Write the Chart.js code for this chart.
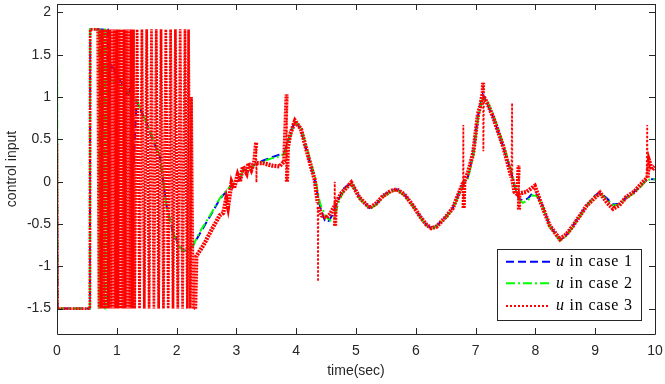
<!DOCTYPE html>
<html>
<head>
<meta charset="utf-8">
<script src="https://cdn.jsdelivr.net/npm/chart.js@4.4.0/dist/chart.umd.min.js"></script>
<style>
html, body { margin: 0; padding: 0; background: #fff; }
</style>
</head>
<body>
<canvas id="chart" width="665" height="384"></canvas>
<script>
// axis ticks
const xTicks = [0, 1, 2, 3, 4, 5, 6, 7, 8, 9, 10];
const yTicks = [-1.5, -1, -0.5, 0, 0.5, 1, 1.5, 2];

const seriesNames = ['in case 1', 'in case 2', 'in case 3'];

// case 1 (blue, dashed)
const t1 = [0, 0.01, 0.55, 0.555, 0.84, 0.85, 0.86, 0.9, 1.0, 1.1, 1.2, 1.24, 1.28, 1.33, 1.4, 1.5, 1.6, 1.72, 1.83, 1.94, 2.02, 2.11, 2.2, 2.27,
  2.4, 2.55, 2.72, 2.85, 2.92, 3.0, 3.06, 3.11, 3.2, 3.3, 3.45, 3.56, 3.72, 3.8, 3.84, 3.9, 3.98, 4.08, 4.2, 4.31, 4.4, 4.48, 4.53, 4.6, 4.7, 4.8,
  4.92, 5.06, 5.23, 5.35, 5.45, 5.58, 5.68, 5.81, 5.95, 6.07, 6.18, 6.26, 6.35, 6.51, 6.62, 6.73, 6.8, 6.85, 6.87, 6.96, 7.04, 7.12, 7.2, 7.29,
  7.46, 7.6, 7.65, 7.72, 7.79, 7.87, 7.95, 8.02, 8.1, 8.24, 8.41, 8.52, 8.63, 8.85, 9.0, 9.08, 9.2, 9.3, 9.4, 9.52, 9.65, 9.75, 9.86, 9.95, 10];
const u1 = [0, -1.5, -1.5, 1.8, 1.8, 1.8, 0.7, 1.4, 1.25, 1.15, 1.0, 1.24, 0.2, 0.95, 0.85, 0.69, 0.5, 0.3, -0.28, -0.6, -0.72, -0.82, -0.8, -0.76,
  -0.6, -0.42, -0.21, -0.1, -0.05, 0.0, 0.02, 0.15, 0.12, 0.2, 0.25, 0.28, 0.32, 0.34, 0.42, 0.56, 0.72, 0.62, 0.3, 0.02, -0.3, -0.46, -0.48, -0.4, -0.22, -0.08,
  -0.01, -0.19, -0.31, -0.26, -0.17, -0.11, -0.09, -0.15, -0.28, -0.41, -0.51, -0.55, -0.52, -0.41, -0.31, -0.12, -0.01, 0.0, 0.05, 0.34, 0.78, 1.03, 0.92, 0.77,
  0.42, 0.1, -0.05, -0.2, -0.22, -0.2, -0.14, -0.15, -0.25, -0.52, -0.69, -0.63, -0.52, -0.29, -0.16, -0.13, -0.2, -0.27, -0.26, -0.19, -0.12, -0.06, 0.02, 0.03, 0.03];

// case 2 (green, dash-dot)
const t2 = [0, 0.003, 0.008, 0.55, 0.553, 0.7, 0.71, 0.73, 0.8, 0.81, 0.84, 0.85, 0.9, 1.0, 1.1, 1.2, 1.33, 1.5, 1.6, 1.72, 1.78, 1.83, 1.94, 2.02, 2.11, 2.2, 2.27,
  2.4, 2.55, 2.72, 2.85, 2.92, 3.0, 3.06, 3.11, 3.2, 3.3, 3.45, 3.56, 3.72, 3.8, 3.84, 3.9, 3.98, 4.08, 4.2, 4.31, 4.4, 4.5, 4.58, 4.63, 4.7, 4.8,
  4.92, 5.06, 5.23, 5.35, 5.45, 5.58, 5.68, 5.81, 5.95, 6.07, 6.18, 6.26, 6.35, 6.51, 6.62, 6.73, 6.8, 6.87, 6.96, 7.04, 7.12, 7.2, 7.29,
  7.46, 7.6, 7.65, 7.72, 7.79, 7.87, 7.95, 8.02, 8.1, 8.24, 8.41, 8.52, 8.63, 8.85, 9.0, 9.08, 9.2, 9.3, 9.4, 9.52, 9.65, 9.75, 9.86, 9.95, 10];
const u2 = [0, 1.37, -1.5, -1.5, 1.8, 1.8, -1.5, 1.8, 1.8, -1.5, -1.5, 1.3, 1.2, 1.18, 1.12, 1.05, 0.97, 0.69, 0.52, 0.3, 0.0, -0.28, -0.6, -0.74, -0.82, -0.8, -0.76,
  -0.58, -0.41, -0.2, -0.09, -0.04, 0.0, 0.03, 0.14, 0.13, 0.2, 0.24, 0.27, 0.3, 0.33, 0.4, 0.54, 0.71, 0.64, 0.34, 0.06, -0.26, -0.42, -0.46, -0.44, -0.26, -0.1,
  -0.02, -0.2, -0.32, -0.27, -0.18, -0.12, -0.1, -0.16, -0.29, -0.42, -0.52, -0.55, -0.53, -0.42, -0.32, -0.14, -0.03, 0.04, 0.3, 0.74, 1.0, 0.94, 0.8,
  0.45, 0.12, -0.03, -0.2, -0.25, -0.22, -0.16, -0.17, -0.26, -0.53, -0.7, -0.64, -0.53, -0.3, -0.17, -0.14, -0.21, -0.28, -0.27, -0.2, -0.13, -0.07, 0.02, 0.03, 0.03];

// case 3 (red, dotted) - chattering part first, then the smooth part with spikes
const t3 = [0, 0.01, 0.55, 0.555, 0.68,
  0.70, 0.72, 0.74, 0.76, 0.78, 0.80, 0.82, 0.84, 0.86, 0.88, 0.90, 0.92, 0.94, 0.96, 0.98, 1.00, 1.02, 1.04, 1.06, 1.08, 1.10, 1.12, 1.14, 1.16, 1.18, 1.20,
  1.22, 1.24, 1.26, 1.28, 1.30,
  1.34, 1.38, 1.42, 1.46, 1.50, 1.54, 1.58, 1.62, 1.66, 1.70, 1.74, 1.78, 1.82, 1.86, 1.90, 1.94, 1.98, 2.02, 2.06, 2.10, 2.14, 2.18,
  2.2, 2.23, 2.25, 2.28, 2.31,
  2.33, 2.45, 2.6, 2.72, 2.78, 2.83, 2.86, 2.92, 2.96, 3.02, 3.06, 3.11, 3.17, 3.2, 3.25, 3.3, 3.33, 3.335, 3.34, 3.44, 3.6, 3.72, 3.8, 3.84, 3.845,
  3.86, 3.9, 3.98, 4.08, 4.2, 4.31, 4.36, 4.365, 4.37, 4.43, 4.5, 4.57, 4.64, 4.645, 4.65, 4.66, 4.76, 4.92, 5.06, 5.23, 5.35, 5.45, 5.58, 5.68,
  5.81, 5.95, 6.07, 6.18, 6.26, 6.35, 6.51, 6.62, 6.73, 6.79, 6.795, 6.8, 6.81, 6.87, 6.96, 7.04, 7.08, 7.12, 7.125, 7.13, 7.14, 7.2, 7.29, 7.46,
  7.6, 7.61, 7.615, 7.65, 7.7, 7.72, 7.725, 7.73, 7.85, 7.99, 8.07, 8.24, 8.41, 8.52, 8.63, 8.85, 9.08, 9.2, 9.3, 9.4, 9.52, 9.65, 9.75, 9.86,
  9.87, 9.875, 9.9, 9.95, 10];
const u3 = [0.45, -1.5, -1.5, 1.8, 1.8,
  -1.5, 1.8, -1.5, 1.8, -1.5, 1.8, -1.5, 1.8, -1.5, 1.8, -1.5, 1.8, -1.5, 1.8, -1.5, 1.8, -1.5, 1.8, -1.5, 1.8, -1.5, 1.8, -1.5, 1.8, -1.5, 1.8,
  -1.5, 1.8, -1.5, 1.8, -1.5,
  1.8, -1.5, 1.8, -1.5, 1.8, -1.5, 1.8, -1.5, 1.8, -1.5, 1.8, -1.5, 1.8, -1.5, 1.8, -1.5, 1.8, -1.5, 1.8, -1.5, 1.8, -1.5,
  1.8, -1.5, 1.0, -1.5, -1.5,
  -0.88, -0.75, -0.55, -0.4, -0.37, -0.2, -0.3, -0.01, -0.08, 0.08, 0.0, 0.18, 0.1, 0.22, 0.14, 0.24, 0.46, -0.01, 0.22, 0.22, 0.19, 0.18, 0.24, 1.03, 0.0,
  0.4, 0.56, 0.72, 0.62, 0.3, 0.02, -0.25, -1.18, -0.3, -0.4, -0.43, -0.38, -0.29, 0.0, -0.52, -0.25, -0.13, -0.01, -0.19, -0.31, -0.25, -0.17, -0.11, -0.09,
  -0.15, -0.28, -0.41, -0.51, -0.55, -0.53, -0.41, -0.31, -0.12, -0.01, 0.67, -0.31, 0.0, 0.1, 0.34, 0.8, 0.9, 1.05, 1.17, 0.36, 1.0, 0.92, 0.77, 0.42,
  0.05, 0.93, 0.03, -0.12, -0.15, 0.19, -0.33, -0.14, -0.12, -0.05, -0.21, -0.52, -0.68, -0.62, -0.52, -0.29, -0.13, -0.25, -0.32, -0.28, -0.18, -0.12, -0.04, 0.04,
  0.67, 0.05, 0.25, 0.14, 0.18];

function pts(t, u) {
  return t.map((x, i) => ({ x: x, y: u[i] }));
}

const axisColor = '#262626';
const tickFont = { family: '"Liberation Sans", Arial, sans-serif', size: 14 };

// inward ticks on all four sides + box
const boxTicks = {
  id: 'boxTicks',
  afterDraw(chart) {
    const ctx = chart.ctx;
    const a = chart.chartArea;
    const xs = chart.scales.x, ys = chart.scales.y;
    const len = 6;
    ctx.save();
    ctx.strokeStyle = axisColor;
    ctx.lineWidth = 1;
    ctx.beginPath();
    ctx.rect(Math.round(a.left) + 0.5, Math.round(a.top) + 0.5, Math.round(a.right - a.left), Math.round(a.bottom - a.top));
    xTicks.forEach(v => {
      const px = Math.round(xs.getPixelForValue(v)) + 0.5;
      ctx.moveTo(px, a.bottom); ctx.lineTo(px, a.bottom - len);
      ctx.moveTo(px, a.top); ctx.lineTo(px, a.top + len);
    });
    yTicks.forEach(v => {
      const py = Math.round(ys.getPixelForValue(v)) + 0.5;
      ctx.moveTo(a.left, py); ctx.lineTo(a.left + len, py);
      ctx.moveTo(a.right, py); ctx.lineTo(a.right - len, py);
    });
    ctx.stroke();
    ctx.restore();
  }
};

// MATLAB style legend box in the lower right corner
const legendBox = {
  id: 'legendBox',
  afterDraw(chart) {
    const ctx = chart.ctx;
    const a = chart.chartArea;
    const w = 144, h = 71;
    const x0 = a.right - 14 - w, y0 = a.bottom - 14 - h;
    ctx.save();
    ctx.fillStyle = '#fff';
    ctx.fillRect(x0, y0, w, h);
    ctx.strokeStyle = axisColor;
    ctx.lineWidth = 1;
    ctx.strokeRect(Math.round(x0) + 0.5, Math.round(y0) + 0.5, w, h);
    const rows = [12.7, 34.3, 57];
    const styles = [
      { color: '#0000ff', dash: [8, 4], width: 2 },
      { color: '#00ff00', dash: [9, 3, 2, 3], width: 2 },
      { color: '#ff0000', dash: [2, 2], width: 2 }
    ];
    rows.forEach((ry, i) => {
      const y = y0 + ry;
      ctx.beginPath();
      ctx.setLineDash(styles[i].dash);
      ctx.strokeStyle = styles[i].color;
      ctx.lineWidth = styles[i].width;
      ctx.moveTo(x0 + 9, y);
      ctx.lineTo(x0 + 53, y);
      ctx.stroke();
      ctx.setLineDash([]);
      ctx.fillStyle = '#000';
      ctx.textBaseline = 'middle';
      ctx.letterSpacing = '0.8px';
      ctx.font = 'italic 16px "Liberation Serif"';
      ctx.fillText('u', x0 + 59, y);
      const uw = ctx.measureText('u').width;
      ctx.font = '16px "Liberation Serif"';
      ctx.fillText(' ' + seriesNames[i], x0 + 59 + uw, y);
    });
    ctx.restore();
  }
};

// dense chattering strokes, thin dotted spikes, thick noisy band elsewhere
function isSpike(c) {
  const dx = c.p1.parsed.x - c.p0.parsed.x;
  const dy = Math.abs(c.p1.parsed.y - c.p0.parsed.y);
  return c.p1.parsed.x > 2.32 && (dx <= 0.0 || dy / dx > 40);
}
function redWidth(c) {
  if (c.p1.parsed.x <= 2.32) return 2.7;
  return isSpike(c) ? 1.8 : 4.2;
}
function redDash(c) {
  return isSpike(c) ? [2, 2] : [2, 1];
}

new Chart(document.getElementById('chart'), {
  type: 'line',
  data: {
    datasets: [
      {
        label: 'u ' + seriesNames[0],
        data: pts(t1, u1),
        borderColor: '#0000ff',
        borderWidth: 2,
        borderDash: [8, 4],
        order: 3
      },
      {
        label: 'u ' + seriesNames[1],
        data: pts(t2, u2),
        borderColor: '#00ff00',
        borderWidth: 2,
        borderDash: [9, 3, 2, 3],
        order: 2
      },
      {
        label: 'u ' + seriesNames[2],
        data: pts(t3, u3),
        borderColor: '#ff0000',
        borderWidth: 2,
        borderDash: [2, 1],
        segment: { borderWidth: redWidth, borderDash: redDash },
        order: 1
      }
    ]
  },
  options: {
    responsive: false,
    animation: false,
    elements: { point: { radius: 0 }, line: { tension: 0, fill: false } },
    layout: { padding: { left: 0, right: 10, top: 4, bottom: 0 } },
    plugins: { legend: { display: false }, tooltip: { enabled: false } },
    scales: {
      x: {
        type: 'linear',
        min: 0,
        max: 10,
        afterFit: s => { s.height = 50; s.paddingLeft = 0; s.paddingRight = 0; },
        afterBuildTicks: s => { s.ticks = xTicks.map(v => ({ value: v })); },
        grid: { display: false, drawTicks: false },
        border: { display: false },
        ticks: { color: axisColor, padding: 9, maxRotation: 0, font: tickFont, callback: v => String(v) },
        title: {
          display: true,
          text: 'time(sec)',
          color: axisColor,
          padding: { top: 0, bottom: 4 },
          font: tickFont
        }
      },
      y: {
        type: 'linear',
        min: -1.8,
        max: 2.1,
        afterFit: s => { s.width = 57; s.paddingTop = 0; s.paddingBottom = 0; },
        afterBuildTicks: s => { s.ticks = yTicks.map(v => ({ value: v })); },
        grid: { display: false, drawTicks: false },
        border: { display: false },
        ticks: { color: axisColor, padding: 6, font: tickFont, callback: v => String(v) },
        title: {
          display: true,
          text: 'control input',
          color: axisColor,
          padding: { top: 4, bottom: 0 },
          font: tickFont
        }
      }
    }
  },
  plugins: [boxTicks, legendBox]
});
</script>
</body>
</html>
